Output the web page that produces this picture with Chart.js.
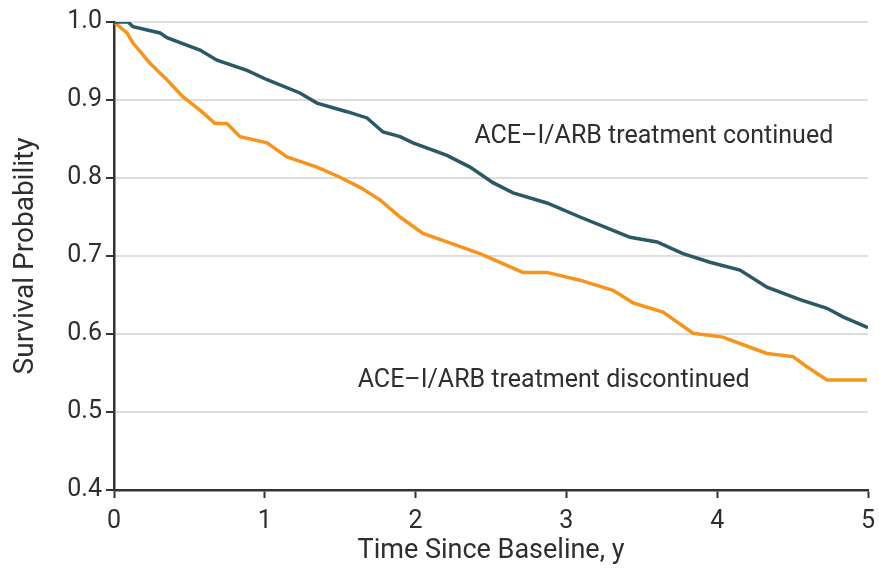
<!DOCTYPE html>
<html>
<head>
<meta charset="utf-8">
<script src="https://cdn.jsdelivr.net/npm/chart.js@4"></script>
<style>
  html, body { margin: 0; padding: 0; background: #fff; }
  #wrap { width: 879px; height: 575px; }
</style>
</head>
<body>
<div id="wrap"><canvas id="canvas_survival" width="879" height="575"></canvas></div>
<script>
// survival curves (time in years, survival probability)
var continued_t = [0, 0.093, 0.126, 0.305, 0.351, 0.570, 0.683, 0.882, 1.015, 1.233, 1.346, 1.545, 1.678, 1.784, 1.897, 1.983, 2.208, 2.361, 2.513, 2.646, 2.871, 3.09, 3.309, 3.422, 3.601, 3.773, 3.952, 4.151, 4.33, 4.549, 4.728, 4.834, 5.0];
var continued_p = [1.0, 1.0, 0.994, 0.986, 0.98, 0.964, 0.951, 0.938, 0.926, 0.909, 0.896, 0.885, 0.877, 0.859, 0.853, 0.845, 0.829, 0.814, 0.794, 0.781, 0.768, 0.75, 0.733, 0.724, 0.718, 0.703, 0.692, 0.682, 0.66, 0.644, 0.633, 0.622, 0.608];

var discontinued_t = [0, 0.086, 0.126, 0.239, 0.351, 0.458, 0.570, 0.670, 0.749, 0.836, 1.015, 1.147, 1.346, 1.499, 1.631, 1.764, 1.897, 2.049, 2.208, 2.427, 2.712, 2.871, 3.09, 3.309, 3.442, 3.641, 3.84, 4.038, 4.218, 4.33, 4.503, 4.595, 4.728, 4.993];
var discontinued_p = [1.0, 0.986, 0.973, 0.947, 0.926, 0.904, 0.887, 0.87, 0.87, 0.853, 0.845, 0.827, 0.814, 0.801, 0.788, 0.772, 0.75, 0.729, 0.718, 0.703, 0.679, 0.679, 0.669, 0.656, 0.64, 0.628, 0.601, 0.596, 0.583, 0.575, 0.571, 0.558, 0.541, 0.541];

var x_ticks = [0, 1, 2, 3, 4, 5];
var y_ticks = [0.4, 0.5, 0.6, 0.7, 0.8, 0.9, 1.0];

var series_labels = ["ACE\u2013I/ARB treatment continued", "ACE\u2013I/ARB treatment discontinued"];
// where the curve labels sit, in data units (left edge, vertical middle)
var label_x = [2.39, 1.616];
var label_y = [0.853, 0.54];

var FONT = "Roboto, 'Noto Sans', sans-serif";
var TEXT = "#2e2e2e";

function toPoints(ts, ps) {
  var out = [];
  for (var i = 0; i < ts.length; i++) out.push({ x: ts[i], y: ps[i] });
  return out;
}

// curve labels drawn at data positions
var curveLabels = {
  id: "curveLabels",
  afterDatasetsDraw: function (chart) {
    var ctx = chart.ctx;
    var xs = chart.scales.x, ys = chart.scales.y;
    ctx.save();
    ctx.font = "25px " + FONT;
    ctx.fillStyle = TEXT;
    ctx.textBaseline = "middle";
    ctx.textAlign = "left";
    for (var i = 0; i < series_labels.length; i++) {
      ctx.fillText(series_labels[i], xs.getPixelForValue(label_x[i]), ys.getPixelForValue(label_y[i]));
    }
    ctx.restore();
  }
};

var ctx = document.getElementById("canvas_survival");
var chart = new Chart(ctx, {
  type: "line",
  data: {
    datasets: [
      {
        label: series_labels[0],
        data: toPoints(continued_t, continued_p),
        borderColor: "#2a5864",
        borderWidth: 3.5,
        pointRadius: 0,
        tension: 0,
        fill: false
      },
      {
        label: series_labels[1],
        data: toPoints(discontinued_t, discontinued_p),
        borderColor: "#f7941d",
        borderWidth: 3.5,
        pointRadius: 0,
        tension: 0,
        fill: false
      }
    ]
  },
  options: {
    responsive: false,
    animation: false,
    layout: { padding: { top: 22, right: 11, left: 0, bottom: 0 } },
    plugins: { legend: { display: false }, tooltip: { enabled: false } },
    scales: {
      x: {
        type: "linear",
        min: 0,
        max: 5,
        afterBuildTicks: function (scale) { scale.ticks = x_ticks.map(function (v) { return { value: v }; }); },
        afterFit: function (scale) {
          scale.height = 85;
          scale.paddingLeft = 0;
          scale.paddingRight = 0;
        },
        ticks: { color: TEXT, font: { family: FONT, size: 25 }, padding: 9, maxRotation: 0 },
        grid: { drawOnChartArea: false, tickColor: "#333", tickLength: 8, tickWidth: 2 },
        border: { color: "#333", width: 2.5 },
        title: { display: true, text: "Time Since Baseline, y", color: TEXT, font: { family: FONT, size: 27 }, padding: { top: 8, bottom: 8 } }
      },
      y: {
        min: 0.4,
        max: 1.0,
        afterBuildTicks: function (scale) { scale.ticks = y_ticks.map(function (v) { return { value: v }; }); },
        afterFit: function (scale) {
          scale.width = 114;
          scale.paddingTop = 0;
          scale.paddingBottom = 0;
        },
        ticks: {
          color: TEXT,
          font: { family: FONT, size: 25 },
          padding: 4,
          callback: function (v) { return Number(v).toFixed(1); }
        },
        grid: {
          color: function (c) { return c.tick && c.tick.value <= 0.4 ? "rgba(0,0,0,0)" : "#dddddd"; },
          lineWidth: 2,
          tickColor: "#333",
          tickLength: 8,
          tickWidth: 2
        },
        border: { color: "#333", width: 2.5 },
        title: { display: true, text: "Survival Probability", color: TEXT, font: { family: FONT, size: 28 }, padding: { top: 9, bottom: 9 } }
      }
    }
  },
  plugins: [curveLabels]
});
</script>
</body>
</html>
